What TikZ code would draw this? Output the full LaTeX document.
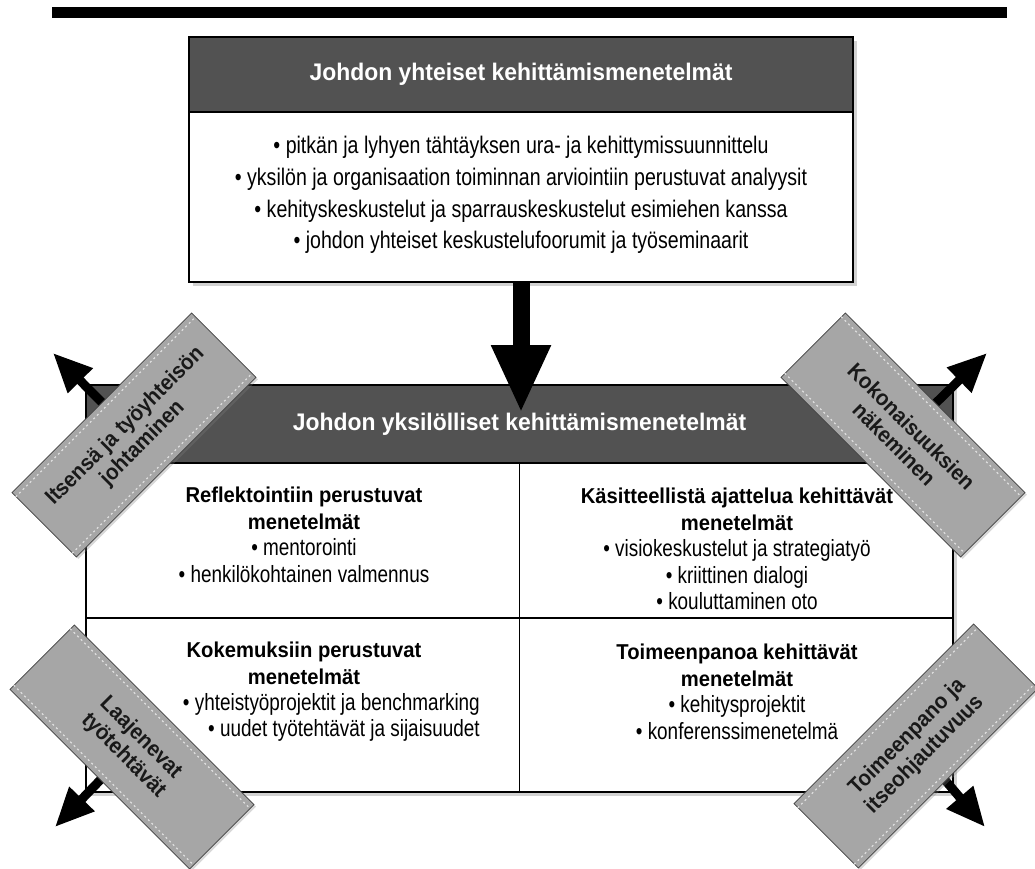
\documentclass[tikz,border=0pt]{standalone}
\usepackage{fontspec}
\setmainfont{Liberation Sans}
\newfontfamily\narrowfont[FakeStretch=0.815]{Liberation Sans}
\newfontfamily\narrowfontb[FakeStretch=0.805]{Liberation Sans}
\newfontfamily\headfont[FakeStretch=0.955]{Liberation Sans}
\newfontfamily\titlefont[FakeStretch=0.94]{Liberation Sans}
\newfontfamily\tagfont[FakeStretch=0.93]{Liberation Sans}
\usetikzlibrary{arrows.meta,shadows,calc}
\newcommand\ctl[1]{{\titlefont\bfseries\fontsize{21.5}{26.5}\selectfont #1}}
\begin{document}
\begin{tikzpicture}[x=1pt,y=-1pt,
  box/.style={draw=black,line width=1.6pt,fill=white,inner sep=0pt,
    drop shadow={shadow xshift=4pt,shadow yshift=-4pt,opacity=.35}},
  head/.style={draw=black,line width=1.6pt,fill=black!68,inner sep=0pt,text=white,
    font=\headfont\bfseries\fontsize{24}{28}\selectfont},
  items/.style={align=center,inner sep=0pt,font=\narrowfont\fontsize{24}{31.7}\selectfont},
  cell/.style={align=center,inner sep=0pt,font=\narrowfontb\fontsize{23.5}{26.5}\selectfont},
  tag/.style={draw=black!75,line width=0.8pt,fill=black!35,minimum width=254pt,
    minimum height=91pt,inner sep=0pt,align=center,text=black!90,
    font=\tagfont\bfseries\fontsize{22}{24.5}\selectfont,
    drop shadow={shadow xshift=2pt,shadow yshift=-2pt,opacity=.3}},
  stitch/.style={black!12,line width=1.2pt,dash pattern=on 2pt off 3pt},
  bigarrow/.style={line width=17pt,-{Triangle[width=55pt,length=68pt]}},
  cornerarrow/.style={line width=9pt,-{Triangle[width=33pt,length=39pt]}},
  divider/.style={line width=1.6pt,draw=black}
]
\useasboundingbox (0,0) rectangle (1035,869);
\fill[white] (0,0) rectangle (1035,869);
% top bar
\fill[black] (52,7) rectangle (1007,18);

% top box
\node[box,minimum width=664pt,minimum height=245pt] (topbox) at (521,159.5) {};
\node[head,minimum width=664pt,minimum height=75pt] (tophead) at (521,74.5)
  {Johdon yhteiset kehittämismenetelmät};
\node[items] (topitems) at (521,195)
  {• pitkän ja lyhyen tähtäyksen ura- ja kehittymissuunnittelu\\
   • yksilön ja organisaation toiminnan arviointiin perustuvat analyysit\\
   • kehityskeskustelut ja sparrauskeskustelut esimiehen kanssa\\
   • johdon yhteiset keskustelufoorumit ja työseminaarit};

% lower box
\node[box,minimum width=867pt,minimum height=407pt] (lowbox) at (519.5,588.5) {};
\node[head,minimum width=867pt,minimum height=78pt] (lowhead) at (519.5,424)
  {Johdon yksilölliset kehittämismenetelmät};
\coordinate (midrow) at (0,618);
\draw[divider] (lowhead.south) -- (lowbox.south);
\draw[divider] (lowbox.west |- midrow) -- (lowbox.east |- midrow);

\node[cell] (celltl) at (304,535)
  {\ctl{Reflektointiin perustuvat}\\\ctl{menetelmät}\\• mentorointi\\• henkilökohtainen valmennus};
\node[cell] (celltr) at (737,549)
  {\ctl{Käsitteellistä ajattelua kehittävät}\\\ctl{menetelmät}\\• visiokeskustelut ja strategiatyö\\• kriittinen dialogi\\• kouluttaminen oto};
\node[cell] (cellbltitle) at (304,663.5)
  {\ctl{Kokemuksiin perustuvat}\\\ctl{menetelmät}};
\node[cell,align=right,anchor=east] (cellblitems) at (480,717.5)
  {• yhteistyöprojektit ja benchmarking\\• uudet työtehtävät ja sijaisuudet};
\node[cell] (cellbr) at (737,692)
  {\ctl{Toimeenpanoa kehittävät}\\\ctl{menetelmät}\\• kehitysprojektit\\• konferenssimenetelmä};

% central arrow
\coordinate (bigtip) at (521,413);
\draw[bigarrow] (topbox.south) -- (bigtip);

% corner tags and arrows
\coordinate (tlc) at (134,435);
\coordinate (trc) at (903,435);
\coordinate (blc) at (132,747);
\coordinate (brc) at (916,746);
\coordinate (tltip) at (53,353);
\coordinate (trtip) at (987,353);
\coordinate (bltip) at (55,827);
\coordinate (brtip) at (985,827);
\draw[cornerarrow] (tlc) -- (tltip);
\draw[cornerarrow] (trc) -- (trtip);
\draw[cornerarrow] (blc) -- (bltip);
\draw[cornerarrow] (brc) -- (brtip);

\node[tag,rotate=45] (tagtl) at (tlc) {Itsensä ja työyhteisön\\johtaminen};
\node[tag,rotate=-45] (tagtr) at (trc) {Kokonaisuuksien\\näkeminen};
\node[tag,rotate=-45] (tagbl) at (blc) {Laajenevat\\työtehtävät};
\node[tag,rotate=45] (tagbr) at (brc) {Toimeenpano ja\\itseohjautuvuus};
\foreach \t in {tagtl,tagtr,tagbl,tagbr}{
  \draw[stitch] ($(\t.north west)!6pt!(\t.south west)$) -- ($(\t.north east)!6pt!(\t.south east)$);
  \draw[stitch] ($(\t.south west)!6pt!(\t.north west)$) -- ($(\t.south east)!6pt!(\t.north east)$);
}
\end{tikzpicture}
\end{document}
